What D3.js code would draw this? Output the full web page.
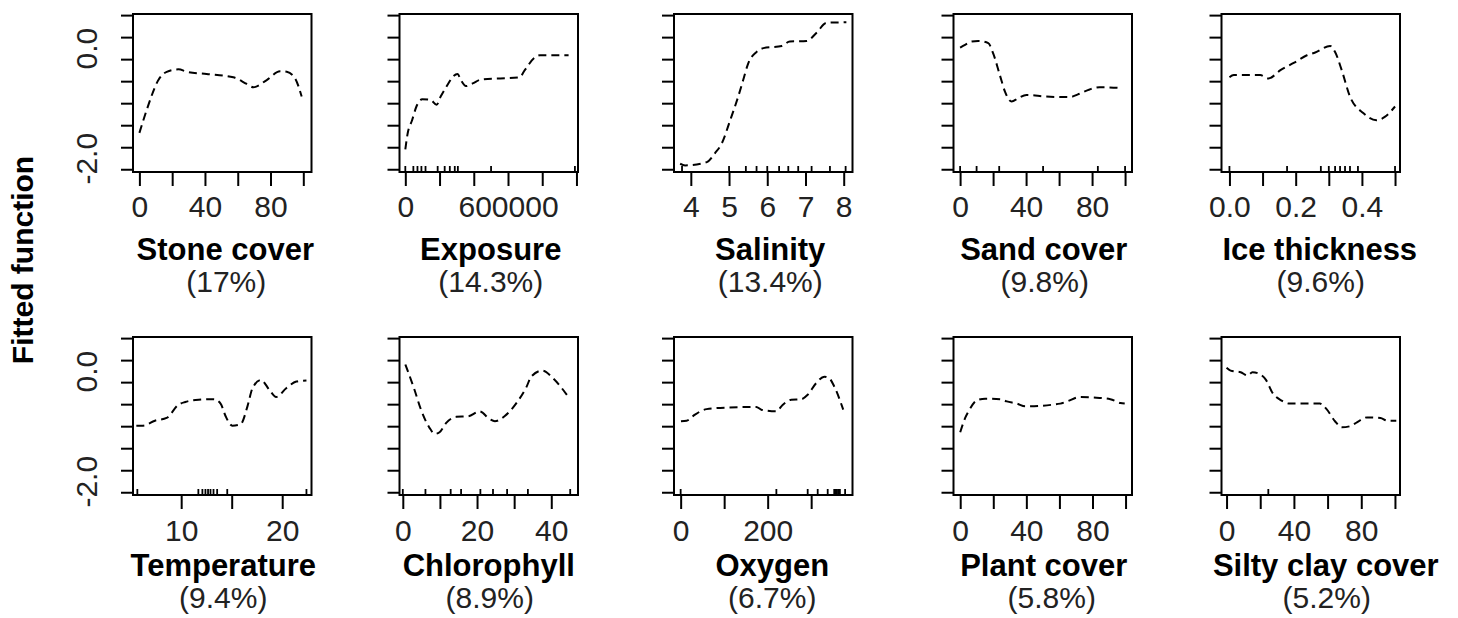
<!DOCTYPE html>
<meta charset="utf-8">
<style>
    body {
        margin: 0;
        background: #fff;
    }
    svg {
        display: block;
        font-family: "Liberation Sans", Arial, sans-serif;
    }
    .tick-label {
        font-size: 30px;
        fill: #222;
    }
    .var-name {
        font-size: 31px;
        font-weight: bold;
        fill: #000;
    }
    .var-share {
        font-size: 30px;
        fill: #222;
    }
</style>

<body>
    <script type="text/javascript" src="https://cdn.jsdelivr.net/npm/d3@7"></script>
    <script type="text/javascript">
        /* Variable names and their relative influence */
        var varNames = ["Stone cover", "Exposure", "Salinity", "Sand cover", "Ice thickness",
            "Temperature", "Chlorophyll", "Oxygen", "Plant cover", "Silty clay cover"];
        var varShares = ["17%", "14.3%", "13.4%", "9.8%", "9.6%",
            "9.4%", "8.9%", "6.7%", "5.8%", "5.2%"];

        /* Fitted functions, [x, f(x)] */
        var stoneCurve = [[0, -1.54], [4.5, -1.12], [11.6, -0.58], [16.7, -0.43], [23.8, -0.385],
            [29, -0.43], [41, -0.47], [57.3, -0.53], [65.5, -0.65], [69.5, -0.71], [77.7, -0.58],
            [85.8, -0.42], [89.9, -0.43], [95, -0.55], [99, -0.88]];
        var exposureCurve = [[0, -1.84], [13600, -1.55], [39500, -1.31], [64900, -1.06], [98500, -0.93],
            [147500, -0.94], [183000, -1.03], [206500, -0.88], [246000, -0.67], [281000, -0.51],
            [305000, -0.47], [324500, -0.58], [354000, -0.69], [393500, -0.64], [442500, -0.57],
            [668000, -0.53], [698000, -0.40], [757000, -0.17], [786500, -0.13], [954000, -0.13]];
        var salinityCurve = [[3.72, -2.10], [3.85, -2.13], [4.42, -2.07], [4.63, -1.91], [4.81, -1.73],
            [5.03, -1.31], [5.24, -0.88], [5.37, -0.58], [5.50, -0.28], [5.72, -0.07], [5.90, 0.00],
            [6.38, 0.04], [6.59, 0.12], [7.03, 0.13], [7.29, 0.28], [7.55, 0.46], [8.07, 0.47]];
        var sandCurve = [[0, 0.01], [3, 0.06], [7, 0.12], [11, 0.13], [17.1, 0.09], [20.1, -0.10],
            [24.1, -0.49], [27.2, -0.79], [31.2, -0.97], [35.2, -0.91], [40.2, -0.85], [52.3, -0.88],
            [66.4, -0.89], [71.4, -0.84], [78.5, -0.75], [84.5, -0.71], [95.6, -0.72], [96.6, -0.76]];
        var iceCurve = [[0, -0.53], [0.013, -0.49], [0.093, -0.49], [0.118, -0.55], [0.154, -0.40],
            [0.194, -0.27], [0.234, -0.13], [0.259, -0.08], [0.304, 0.04], [0.319, -0.07],
            [0.339, -0.40], [0.364, -0.88], [0.404, -1.18], [0.444, -1.31], [0.469, -1.25], [0.5, -1.06]];
        var temperatureCurve = [[5.56, -0.99], [6.23, -0.99], [7.4, -0.90], [8.56, -0.85], [9.73, -0.61],
            [10.4, -0.56], [11.73, -0.52], [13.23, -0.51], [13.9, -0.59], [14.4, -0.82], [15.06, -0.99],
            [15.9, -0.96], [16.56, -0.64], [17.06, -0.31], [17.9, -0.16], [18.73, -0.34], [19.4, -0.47],
            [20.4, -0.31], [21.4, -0.19], [22.4, -0.17]];
        var chlorophyllCurve = [[0.7, 0.12], [3.1, -0.33], [4.9, -0.70], [7.2, -1.03], [8.6, -1.14],
            [9.9, -1.11], [11.7, -0.94], [14.4, -0.83], [17.6, -0.82], [20.7, -0.73], [23.4, -0.87],
            [24.8, -0.91], [27.4, -0.82], [30.6, -0.58], [33.3, -0.29], [34.6, -0.10], [37.6, 0.01],
            [40.5, -0.13], [44.5, -0.46]];
        var oxygenCurve = [[0.7, -0.91], [13.7, -0.90], [32.7, -0.79], [59.5, -0.69], [112.8, -0.66],
            [173.9, -0.65], [185.4, -0.70], [219.7, -0.73], [234.9, -0.61], [254.1, -0.52], [277, -0.51],
            [292, -0.43], [311.3, -0.22], [330.3, -0.10], [341.7, -0.13], [353.1, -0.28], [373.7, -0.70]];
        var plantCurve = [[0, -1.11], [3, -0.85], [5.6, -0.70], [10.1, -0.53], [15.1, -0.50], [24.2, -0.51],
            [28.2, -0.55], [34.3, -0.59], [39.3, -0.64], [60.5, -0.59], [64.6, -0.55], [72.6, -0.47],
            [80.7, -0.48], [90.8, -0.51], [96.9, -0.58], [99.5, -0.59]];
        var siltyCurve = [[0, 0.06], [2.4, 0.01], [8.4, -0.02], [12.4, -0.08], [15.4, -0.02], [19.4, -0.05],
            [23.4, -0.16], [27.4, -0.40], [32.4, -0.53], [37.4, -0.59], [55.4, -0.59], [59.4, -0.69],
            [64.4, -0.91], [68.4, -1.02], [73.4, -1.00], [77.4, -0.93], [83.4, -0.84], [91.4, -0.85],
            [95.4, -0.90], [100.8, -0.90]];

        /* Rug marks (deciles of each predictor) */
        var stoneRug = [];
        var exposureRug = [0, 47000, 71000, 94000, 118000, 189000, 230000, 260000, 289000, 307000, 501000, 991000];
        var salinityRug = [3.77, 5.0, 5.44, 5.72, 6.0, 6.31, 6.55, 6.81, 7.16, 7.64, 8.05];
        var sandRug = [0, 10, 23.7, 50.3, 83.5, 100];
        var iceRug = [0, 0.174, 0.276, 0.30, 0.319, 0.334, 0.349, 0.364, 0.388, 0.5];
        var temperatureRug = [5.66, 11.7, 12.1, 12.4, 12.66, 12.9, 13.2, 13.56, 14.56, 22.4];
        var chlorophyllRug = [0, 6.1, 12.9, 15.7, 20.9, 24.3, 28.1, 33.7, 45.1];
        var oxygenRug = [0, 220, 292, 315, 338, 353, 356, 359, 362, 366, 378];
        var plantRug = [];
        var siltyRug = [24.8];

        /* X axis ranges, tick values and labelled ticks */
        var xDomains = [[-3.9, 105], [-34000, 1009000], [3.56, 8.23], [-4.0, 104.2], [-0.024, 0.515],
            [5.23, 22.9], [-0.89, 47.2], [-15.3, 395], [-4.06, 103.9], [-3.0, 103]];
        var xTicks = [[0, 20, 40, 60, 80, 100], [0, 200000, 400000, 600000, 800000, 1000000],
            [4, 5, 6, 7, 8], [0, 20, 40, 60, 80, 100], [0, 0.1, 0.2, 0.3, 0.4, 0.5],
            [10, 15, 20], [0, 10, 20, 30, 40], [0, 100, 200, 300],
            [0, 20, 40, 60, 80, 100], [0, 20, 40, 60, 80, 100]];
        var xLabels = [[0, 40, 80], [0, 600000], [4, 5, 6, 7, 8], [0, 40, 80], [0.0, 0.2, 0.4],
            [10, 20], [0, 20, 40], [0, 200], [0, 40, 80], [0, 40, 80]];
        var xDigits = [0, 0, 0, 0, 1, 0, 0, 0, 0, 0];

        /* Y axis (shared by all panels) */
        var yDomain = [-2.25, 0.62];
        var yTicks = [0.6, 0.2, -0.2, -0.6, -1.0, -1.4, -1.8, -2.2];
        var yLabels = [0.0, -2.0];

        var curves = [stoneCurve, exposureCurve, salinityCurve, sandCurve, iceCurve,
            temperatureCurve, chlorophyllCurve, oxygenCurve, plantCurve, siltyCurve];
        var rugs = [stoneRug, exposureRug, salinityRug, sandRug, iceRug,
            temperatureRug, chlorophyllRug, oxygenRug, plantRug, siltyRug];

        /* Layout */
        var w = 1458;
        var h = 618;
        var colLeft = [133, 399.5, 674, 953.5, 1221.5];
        var rowTop = [14, 337];
        var boxW = 178.5;
        var boxH = 158;
        var labelDy = [45, 46];
        var nameDy = [88, 81];
        var shareDy = [120, 113];
        // small horizontal nudges of the captions, as in the figure
        var nameShift = [3, 2, 7, 1, 9, 1, 0, 9, 1, 15];
        var shareShift = [4, 2, 7, 2, 10, 1, 1, 9, 9, 16];

        var svg = d3.select("body").append("svg")
            .attr("width", w)
            .attr("height", h);

        svg.append("rect")
            .attr("width", w)
            .attr("height", h)
            .attr("fill", "#fff");

        varNames.forEach(function (name, i) {
            var row = Math.floor(i / 5);
            var col = i % 5;
            var left = colLeft[col];
            var top = rowTop[row];
            var bottom = top + boxH;

            var xScale = d3.scaleLinear()
                .domain(xDomains[i])
                .range([left, left + boxW]);
            var yScale = d3.scaleLinear()
                .domain(yDomain)
                .range([bottom, top]);

            var g = svg.append("g");

            // x tick marks
            var xAxis = g.append("g")
                .attr("transform", "translate(0," + bottom + ")")
                .call(d3.axisBottom(xScale).tickValues(xTicks[i]).tickSize(14).tickFormat(""));
            xAxis.select(".domain").remove();

            // x tick labels
            var xLab = g.append("g")
                .attr("transform", "translate(0," + bottom + ")")
                .call(d3.axisBottom(xScale).tickValues(xLabels[i]).tickSize(0)
                    .tickFormat(function (d) { return d.toFixed(xDigits[i]); }));
            xLab.select(".domain").remove();
            xLab.selectAll("text")
                .attr("class", "tick-label")
                .attr("y", labelDy[row])
                .attr("dy", null);

            // y tick marks
            var yAxis = g.append("g")
                .attr("transform", "translate(" + left + ",0)")
                .call(d3.axisLeft(yScale).tickValues(yTicks).tickSize(12).tickFormat(""));
            yAxis.select(".domain").remove();

            // y tick labels only in the first column
            if (col === 0) {
                var yLab = g.append("g")
                    .attr("transform", "translate(" + left + ",0)")
                    .call(d3.axisLeft(yScale).tickValues(yLabels).tickSize(0)
                        .tickFormat(function (d) { return d.toFixed(1); }));
                yLab.select(".domain").remove();
                yLab.selectAll("text")
                    .attr("class", "tick-label")
                    .attr("x", null)
                    .attr("dy", null)
                    .attr("text-anchor", "middle")
                    .attr("transform", "translate(-36,0) rotate(-90)");
            }

            g.selectAll("g").attr("font-size", null).attr("font-family", null);
            g.selectAll("text").attr("fill", null);

            g.selectAll("line")
                .attr("stroke", "#000")
                .attr("stroke-width", 2);

            // rug
            g.selectAll(".rug")
                .data(rugs[i])
                .enter()
                .append("line")
                .attr("class", "rug")
                .attr("x1", function (d) { return xScale(d); })
                .attr("x2", function (d) { return xScale(d); })
                .attr("y1", bottom)
                .attr("y2", bottom - 6)
                .attr("stroke", "#000")
                .attr("stroke-width", 1.8);

            // fitted function
            var lineGenerator = d3.line()
                .x(function (d) { return xScale(d[0]); })
                .y(function (d) { return yScale(d[1]); })
                .curve(d3.curveMonotoneX);

            g.append("path")
                .attr("d", lineGenerator(curves[i]))
                .attr("fill", "none")
                .attr("stroke", "#000")
                .attr("stroke-width", 2)
                .attr("stroke-dasharray", "8,5");

            // box
            g.append("rect")
                .attr("x", left)
                .attr("y", top)
                .attr("width", boxW)
                .attr("height", boxH)
                .attr("fill", "none")
                .attr("stroke", "#000")
                .attr("stroke-width", 2);

            // variable name and influence
            var cx = left + boxW / 2;
            g.append("text")
                .attr("class", "var-name")
                .attr("x", cx + nameShift[i])
                .attr("y", bottom + nameDy[row])
                .attr("text-anchor", "middle")
                .text(name);
            g.append("text")
                .attr("class", "var-share")
                .attr("x", cx + shareShift[i])
                .attr("y", bottom + shareDy[row])
                .attr("text-anchor", "middle")
                .text("(" + varShares[i] + ")");
        });

        /* Shared y label */
        svg.append("text")
            .attr("class", "var-name")
            .attr("transform", "translate(33,260) rotate(-90)")
            .attr("text-anchor", "middle")
            .style("font-size", "30px")
            .text("Fitted function");
    </script>
</body>
